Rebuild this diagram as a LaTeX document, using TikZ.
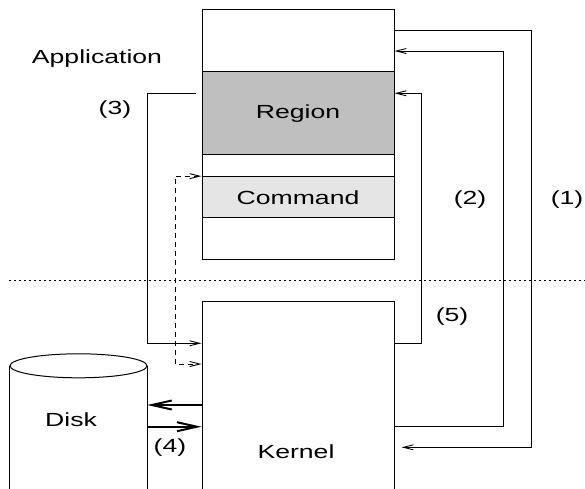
\documentclass[tikz,border=0pt]{standalone}
\usepackage{fontspec}
\setmainfont{Liberation Sans}[FakeStretch=1.4]
\usetikzlibrary{arrows.meta}

\tikzset{
  box/.style={draw, line width=1pt, minimum width=192pt, inner sep=0pt},
  conn/.style={line width=0.9pt, -{Straight Barb[length=10pt,width=5pt]}},
  bigconn/.style={line width=2pt, -{Straight Barb[length=20pt,width=9pt,line width=2pt]}},
  lbl/.style={anchor=base, inner sep=0pt}
}

\begin{document}
\begin{tikzpicture}[x=1pt, y=-1pt, font=\fontsize{19}{22}\selectfont]
    \clip (0,0) rectangle (585,488);

    %boxes
    \node[box, minimum height=250pt] (app) at (298,134) {};
    \node[box, fill=gray!50, minimum height=83.3pt] (region) at (298,113.3) {Region};
    \node[box, fill=gray!20, minimum height=41.3pt] (command) at (298,197.3) {Command};
    \node[box, minimum height=257pt] (kernel) at (298,430) {};

    %disk (cylinder)
    \node[minimum width=137pt, minimum height=200pt, inner sep=0pt] (disk) at (78.5,466) {};
    \draw[line width=1pt] (disk.north west) -- (disk.south west)
                          (disk.north east) -- (disk.south east);
    \draw[line width=1pt, fill=white] (disk.north) ellipse [x radius=68.5pt, y radius=12pt];

    %boundary (dotted)
    \coordinate (bl) at (9,280.7);
    \coordinate (br) at (585,280.7);
    \draw[line width=0.9pt, dash pattern=on 2pt off 3pt] (bl) -- (br);

    %labels
    \node[lbl] (applbl) at (97,63.3) {Application};
    \node[lbl] (kernlbl) at (296,458.3) {Kernel};
    \node[lbl] (disklbl) at (71,426.7) {Disk};
    \node[lbl] (l1) at (567,204.3) {(1)};
    \node[lbl] (l2) at (470,204.3) {(2)};
    \node[lbl] (l3) at (115,114.5) {(3)};
    \node[lbl] (l4) at (170,452.7) {(4)};
    \node[lbl] (l5) at (452,321) {(5)};

    %arrows right
    \draw[conn, shorten >=7pt] (app.east |- 0,30) -- (531,30) |- (kernel.east |- 0,447.3);
    \draw[conn] (kernel.east |- 0,426.7) -- (503.7,426.7) |- (app.east |- 0,51);
    \draw[conn] (kernel.east |- 0,343.3) -- (421,343.3) |- (region.east |- 0,93.3);

    %arrows left
    \draw[conn, shorten <=6pt] (region.west |- 0,93.3) -- (147,93.3) |- (kernel.west |- 0,343.3);
    \draw[conn, dash pattern=on 5pt off 4pt, {Straight Barb[length=10pt,width=5pt]}-{Straight Barb[length=10pt,width=5pt]}]
        (command.north west) -| (175,364) -- (kernel.west |- 0,364);

    %disk
    \draw[bigconn] (kernel.west |- 0,405) -- (disk.east |- 0,405);
    \draw[bigconn] (disk.east |- 0,426.7) -- (kernel.west |- 0,426.7);
\end{tikzpicture}
\end{document}
